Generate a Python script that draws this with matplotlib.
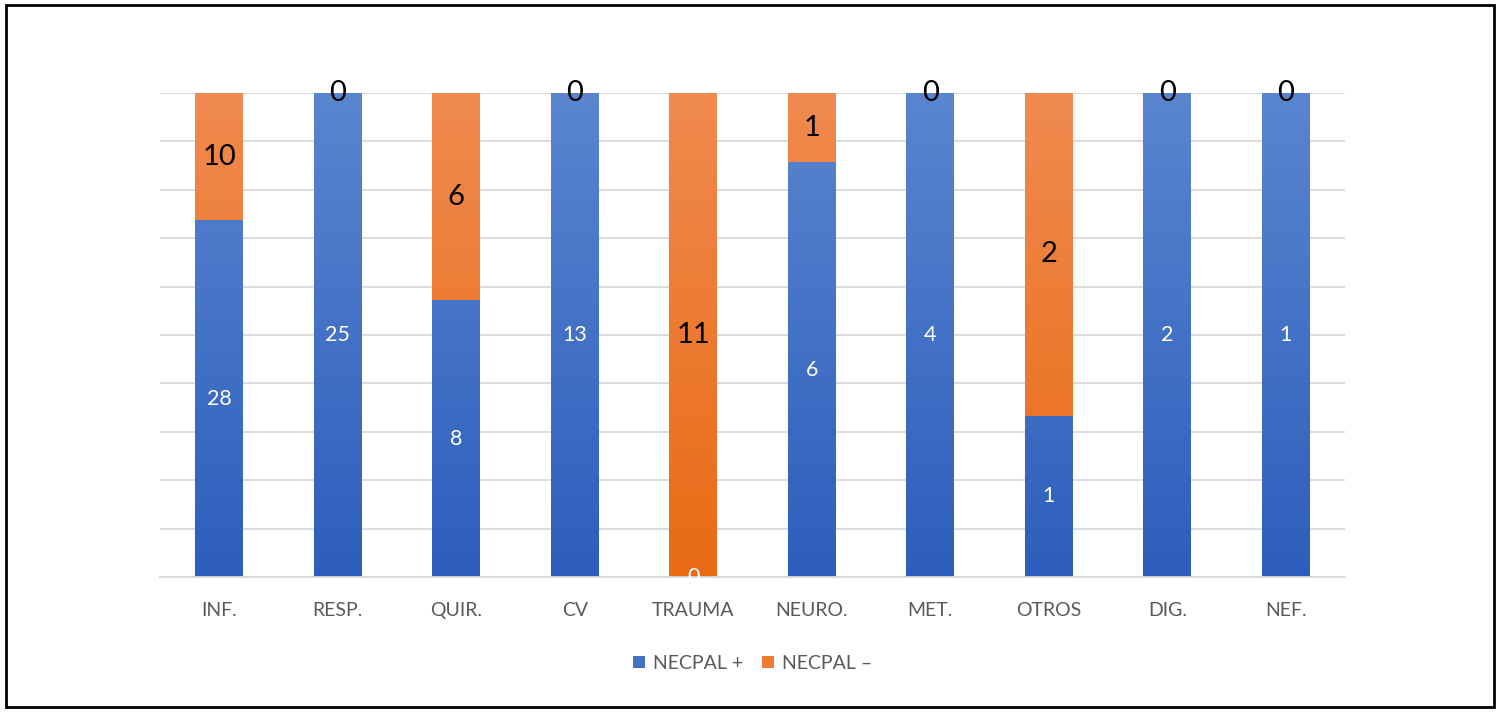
import numpy as np
import matplotlib.pyplot as plt
from matplotlib.colors import LinearSegmentedColormap
from matplotlib.patches import Rectangle, Patch

categories = ["INF.", "RESP.", "QUIR.", "CV", "TRAUMA", "NEURO.", "MET.", "OTROS", "DIG.", "NEF."]
necpal_pos = [28, 25, 8, 13, 0, 6, 4, 1, 2, 1]
necpal_neg = [10, 0, 6, 0, 11, 1, 0, 2, 0, 0]
series_names = ["NECPAL +", "NECPAL \u2013"]

plt.rcParams["font.family"] = ["Lato", "DejaVu Sans"]

blue_cmap = LinearSegmentedColormap.from_list("b", ["#2D5EBD", "#5A85CF"])
orange_cmap = LinearSegmentedColormap.from_list("o", ["#E96B14", "#F08A4F"])

pos = np.array(necpal_pos, dtype=float)
neg = np.array(necpal_neg, dtype=float)
total = pos + neg
pos_pct = pos / total * 100
neg_pct = neg / total * 100

fig = plt.figure(figsize=(15, 7.12), dpi=100)
ax = fig.add_axes([0.1067, 0.1896, 0.79, 0.6798])

x = np.arange(len(categories))
width = 0.405
bars_pos = ax.bar(x, pos_pct, width, color="#4472C4", zorder=2)
bars_neg = ax.bar(x, neg_pct, width, bottom=pos_pct, color="#ED7D31", zorder=2)

# gradient fill (lighter towards the top of the plot)
grad = np.linspace(0, 1, 256).reshape(-1, 1)
for bars, cmap in [(bars_pos, blue_cmap), (bars_neg, orange_cmap)]:
    for b in bars:
        if b.get_height() <= 0:
            continue
        b.set_facecolor("none")
        im = ax.imshow(grad, cmap=cmap, origin="lower", aspect="auto",
                       extent=[b.get_x(), b.get_x() + b.get_width(), 0, 100], zorder=2)
        im.set_clip_path(b)

ax.set_xlim(-0.5, len(categories) - 0.5)
ax.set_ylim(0, 100)
ax.set_yticks(np.arange(0, 101, 10))
ax.yaxis.grid(True, color="#D9D9D9", linewidth=1.3, zorder=0)
ax.set_yticklabels([])
ax.tick_params(axis="y", length=0)
ax.tick_params(axis="x", length=0, pad=18, labelsize=14, labelcolor="#595959")
ax.set_xticks(x)
ax.set_xticklabels(categories)
for s in ["top", "right", "left"]:
    ax.spines[s].set_visible(False)
ax.spines["bottom"].set_color("#D9D9D9")
ax.spines["bottom"].set_linewidth(1.3)

# data labels
for i in range(len(categories)):
    ax.text(x[i], pos_pct[i] / 2, str(necpal_pos[i]), ha="center", va="center",
            color="white", fontsize=15.5, zorder=3)
    ax.text(x[i], pos_pct[i] + neg_pct[i] / 2, str(necpal_neg[i]), ha="center", va="center",
            color="black", fontsize=21, zorder=3)

handles = [Patch(facecolor="#4472C4"), Patch(facecolor="#ED7D31")]
ax.legend(handles, series_names, loc="center", bbox_to_anchor=(0.5, -0.178), ncol=2,
          frameon=False, fontsize=14, handlelength=0.6, handleheight=0.6,
          handletextpad=0.4, columnspacing=1.0, labelcolor="#595959")

fig.patches.append(Rectangle((0.004, 0.007), 0.992, 0.986, transform=fig.transFigure,
                             fill=False, edgecolor="black", linewidth=2))

fig.savefig("out.png", dpi=100)
